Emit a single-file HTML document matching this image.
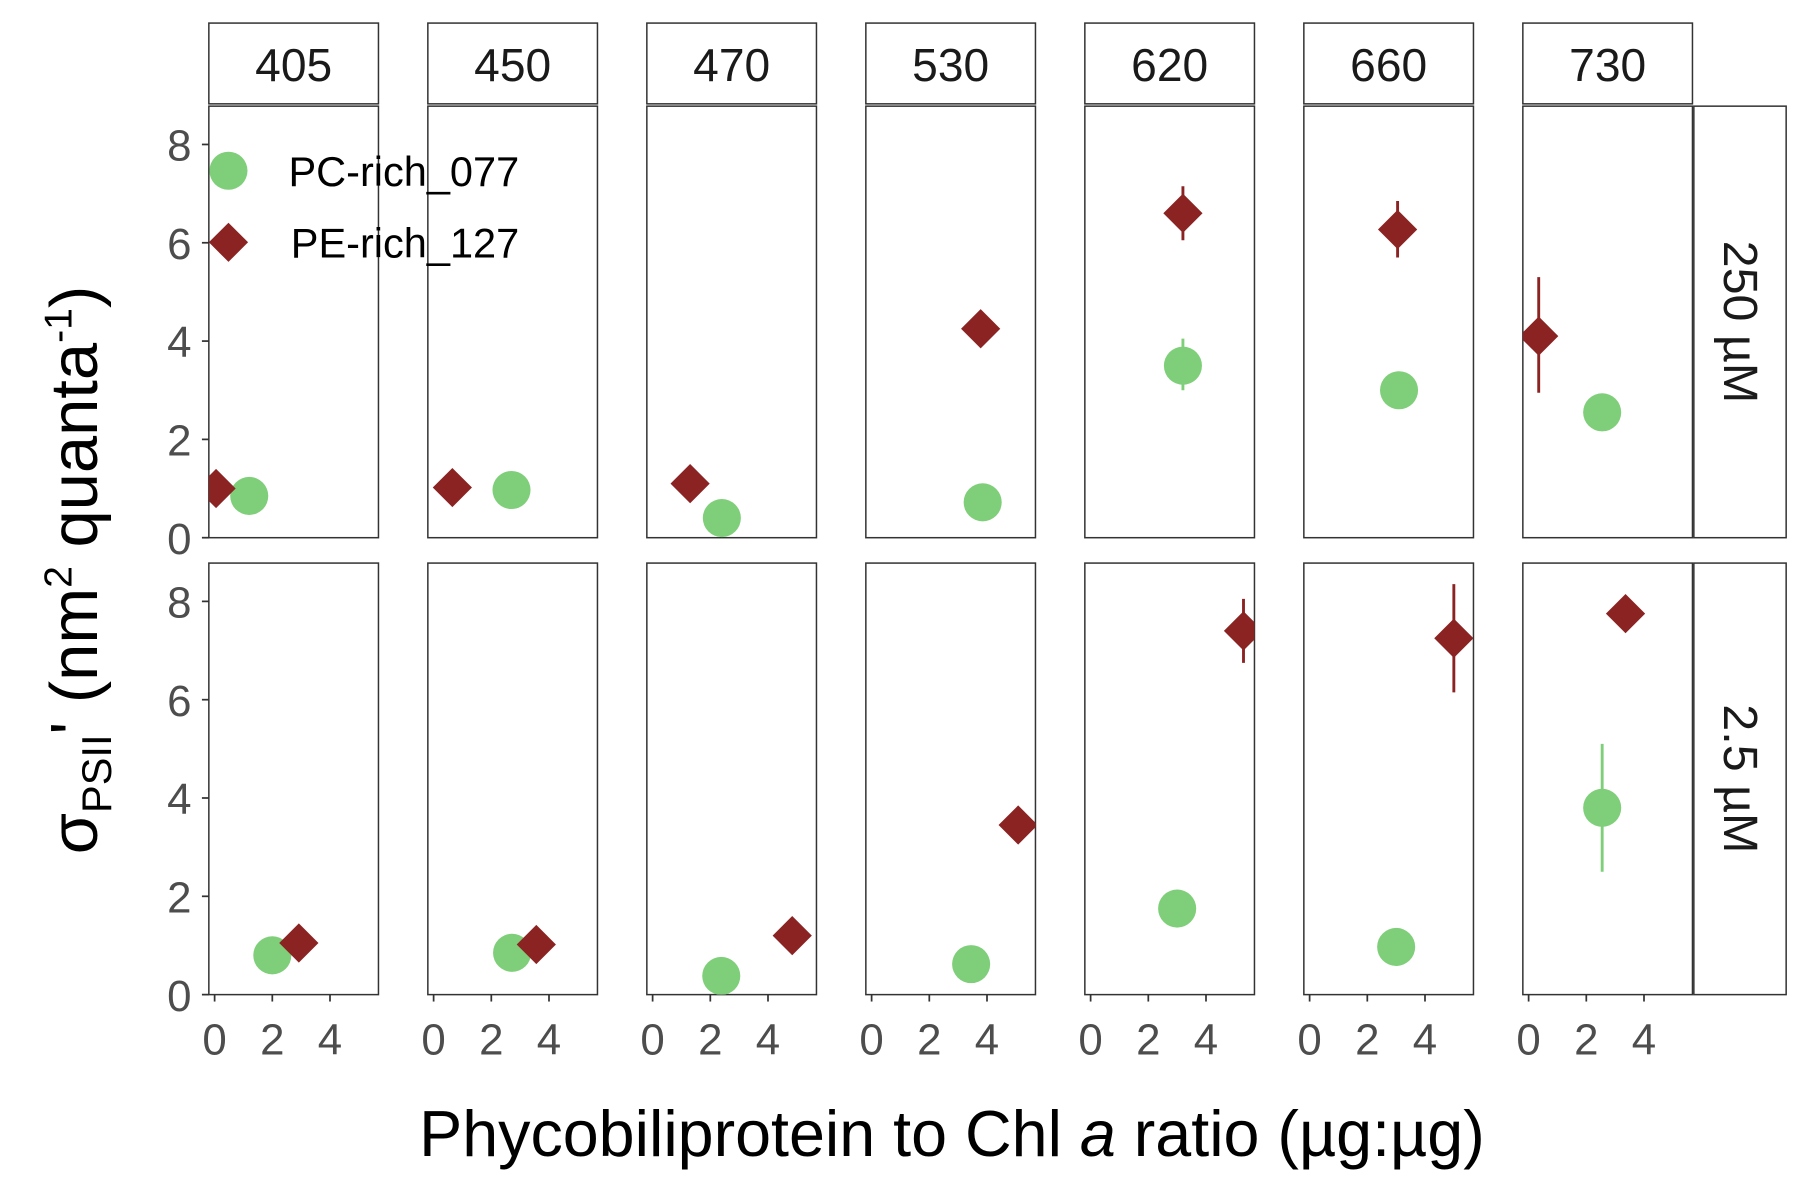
<!DOCTYPE html>
<html><head><meta charset="utf-8"><style>
html,body{margin:0;padding:0;background:#fff}
svg{display:block}
text{font-family:"Liberation Sans",Arial,sans-serif}
</style></head><body>
<svg id="chart" width="1800" height="1200" viewBox="0 0 1560 1040" preserveAspectRatio="none" xmlns="http://www.w3.org/2000/svg">
<rect width="1560" height="1040" fill="#fff"/>
<g id="g"></g>
<text x="825" y="1002" font-size="56" text-anchor="middle">Phycobiliprotein to Chl <tspan font-style="italic">a</tspan> ratio (µg:µg)</text>
<text transform="translate(84,494) rotate(-90)" font-size="58" text-anchor="middle">σ<tspan font-size="36" dy="12">PSII</tspan><tspan dy="-12">' (nm</tspan><tspan font-size="34" dy="-22">2</tspan><tspan dy="22"> quanta</tspan><tspan font-size="34" dy="-22">-1</tspan><tspan dy="22">)</tspan></text>
<g>
<circle cx="198" cy="148" r="16.5" fill="#7fcf7a"/>
<text x="250" y="161" font-size="36">PC-rich_077</text>
<path d="M198,193 L215,210 L198,227 L181,210 Z" fill="#8b2323"/>
<text x="252" y="223" font-size="36">PE-rich_127</text>
</g>
</svg>
<script>
const wavelengths=["405","450","470","530","620","660","730"];
const rows=["250 µM","2.5 µM"];
const xTicks=[0,2,4];
const yTicks=[0,2,4,6,8];
// [x, y, errLow, errHigh] per wavelength
const pcTop=[[1.2,0.85],[2.7,0.97],[2.4,0.4],[3.85,0.72],[3.2,3.5,3.0,4.05],[3.1,3.0],[2.55,2.55]];
const peTop=[[0.05,1.0],[0.65,1.02],[1.3,1.1],[3.78,4.25],[3.2,6.6,6.05,7.15],[3.05,6.27,5.7,6.85],[0.35,4.1,2.95,5.3]];
const pcBot=[[2.0,0.8],[2.72,0.85],[2.38,0.38],[3.45,0.62],[3.0,1.75],[3.0,0.97],[2.55,3.8,2.5,5.1]];
const peBot=[[2.92,1.05],[3.56,1.02],[4.84,1.2],[5.08,3.45],[5.3,7.4,6.75,8.05],[5.0,7.25,6.15,8.35],[3.36,7.75]];

const NS="http://www.w3.org/2000/svg";
const g=document.getElementById('g');
const panelW=147, colStep=189.8, col0=181;
const rowTop=[92,488], rowH=374;
const xMin=-0.2, xPx=25;
const yPx=42.6;
function sx(c,v){return col0+c*colStep+(v-xMin)*xPx;}
function sy(r,v){return rowTop[r]+rowH-v*yPx;}
function mk(tag,attrs,parent){const e=document.createElementNS(NS,tag);for(const k in attrs)e.setAttribute(k,attrs[k]);(parent||g).appendChild(e);return e;}
const defs=mk('defs',{});
for(let c=0;c<7;c++)for(let r=0;r<2;r++){
  const cp=mk('clipPath',{id:'cp'+c+'_'+r},defs);
  mk('rect',{x:col0+c*colStep,y:rowTop[r],width:panelW,height:rowH},cp);
}
for(let c=0;c<7;c++){
  const x0=col0+c*colStep;
  const s=mk('rect',{x:x0,y:20,width:panelW,height:70,fill:'#fff',stroke:'#333','stroke-width':1.3});
  
  
  const t=mk('text',{x:x0+panelW/2,y:70,'font-size':40,'text-anchor':'middle',fill:'#1a1a1a'});
  t.textContent=wavelengths[c];
  
  
  for(let r=0;r<2;r++){
    const p=mk('rect',{x:x0,y:rowTop[r],width:panelW,height:rowH,fill:'#fff',stroke:'#333','stroke-width':1.3});
    
    
    const grp=mk('g',{'clip-path':'url(#cp'+c+'_'+r+')'});
    const pc=r===0?pcTop[c]:pcBot[c], pe=r===0?peTop[c]:peBot[c];
    [[pc,'#7fcf7a','pc'],[pe,'#8b2323','pe']].forEach(([d,col,nm])=>{
      const cx=sx(c,d[0]), cy=sy(r,d[1]);
      if(d.length>2){
        const l=mk('line',{x1:cx,x2:cx,y1:sy(r,d[2]),y2:sy(r,d[3]),stroke:col,'stroke-width':2.5},grp);
        
        
      }
      let m;
      if(nm==='pc') m=mk('circle',{cx:cx,cy:cy,r:16.5,fill:col},grp);
      else m=mk('path',{d:`M${cx},${cy-17} L${cx+17},${cy} L${cx},${cy+17} L${cx-17},${cy} Z`,fill:col},grp);
      
      
    });
  }
  xTicks.forEach(v=>{
    const x=sx(c,v), yb=rowTop[1]+rowH;
    mk('line',{x1:x,x2:x,y1:yb,y2:yb+6,stroke:'#333','stroke-width':1.5});
    const t=mk('text',{x:x,y:yb+52,'font-size':38,'text-anchor':'middle',fill:'#4d4d4d'});
    t.textContent=v;
    
    
  });
}
for(let r=0;r<2;r++){
  const s=mk('rect',{x:1468,y:rowTop[r],width:80,height:rowH,fill:'#fff',stroke:'#333','stroke-width':1.3});
  
  
  const cy=rowTop[r]+rowH/2;
  const t=mk('text',{transform:`translate(1494,${cy}) rotate(90)`,'font-size':42,'text-anchor':'middle',fill:'#1a1a1a'});
  t.textContent=rows[r];
  
  
  yTicks.forEach(v=>{
    const y=sy(r,v);
    mk('line',{x1:175,x2:181,y1:y,y2:y,stroke:'#333','stroke-width':1.5});
    const t2=mk('text',{x:166,y:y+14,'font-size':38,'text-anchor':'end',fill:'#4d4d4d'});
    t2.textContent=v;
    
    
  });
}
</script>
</body></html>
